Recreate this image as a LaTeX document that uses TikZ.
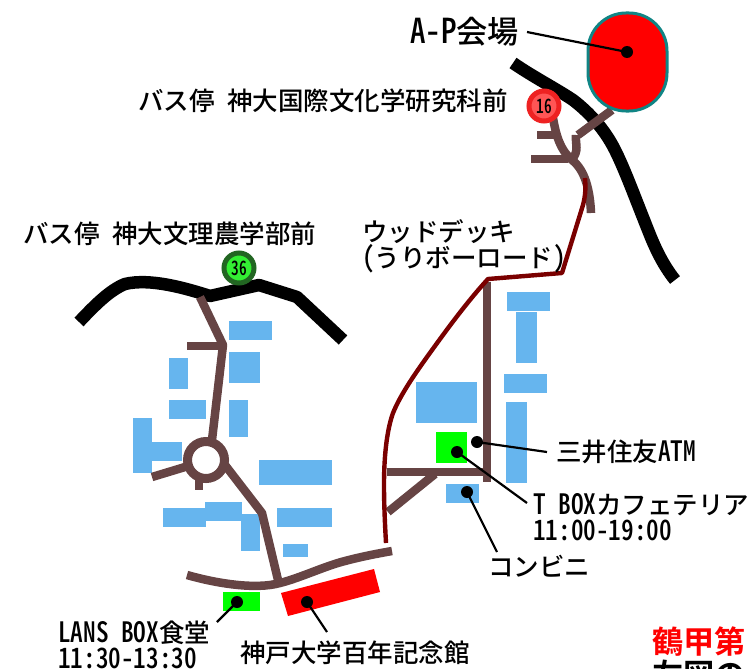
\documentclass[tikz,border=0pt]{standalone}
\usepackage{fontspec}
\newfontfamily\jp{Noto Sans CJK JP Medium}
\newfontfamily\jpb{Noto Sans CJK JP Bold}
\newfontfamily\hwf{Noto Sans CJK JP Medium}[RawFeature=+hwid,Scale=1.1]
\newcommand{\hw}[1]{\scalebox{.9}[1]{\hwf #1}}
\definecolor{road}{HTML}{664444}
\definecolor{bldg}{HTML}{66B5EE}
\definecolor{deck}{HTML}{7A0000}
\definecolor{teal2}{HTML}{108585}
\tikzset{
  x=1pt,y=-1pt,
  mainroad/.style={draw=black,line width=12.5pt,line join=round},
  path1/.style={draw=road,line width=8.5pt,line join=round},
  deckline/.style={draw=deck,line width=4.4pt,line join=round},
  bldgbox/.style={fill=bldg},
  shop/.style={fill=green},
  hall/.style={fill=red},
  dot/.style={circle,fill=black,inner sep=0pt,minimum size=12pt},
  leader/.style={draw=black,line width=2.2pt},
  lab/.style={anchor=base west,inner sep=0pt,font=\jp\fontsize{25.5}{29}\selectfont,align=left},
  biglab/.style={anchor=base west,inner sep=0pt,font=\jp\fontsize{31.2}{36}\selectfont},
  busstop/.style={circle,line width=5pt,minimum size=30pt,inner sep=0pt,font=\hwf\fontsize{18}{18}\selectfont},
}
\begin{document}
\begin{tikzpicture}
\useasboundingbox (0,0) rectangle (752,669);
\clip (0,0) rectangle (752,669);
% black roads
\draw[mainroad] (513,63) .. controls (535,78) and (555,88) .. (573,100) .. controls (590,113) and (605,130) .. (615,150) .. controls (625,170) and (634,195) .. (648,230) .. controls (655,248) and (663,265) .. (675,280);
\draw[mainroad] (79,322) .. controls (95,305) and (110,290) .. (125,284) .. controls (150,278) and (185,288) .. (210,296) -- (259,285) -- (297,297) -- (343,340);
% buildings, right
\fill[bldgbox] (507,292) rectangle (550,311);
\fill[bldgbox] (516,312) rectangle (537,363);
\fill[bldgbox] (504,374) rectangle (547,393);
\fill[bldgbox] (506,402) rectangle (527,483);
\fill[bldgbox] (416,382) rectangle (477,423);
\fill[bldgbox] (446,484) rectangle (479,503);
% buildings, left
\fill[bldgbox] (229,321) rectangle (272,340);
\fill[bldgbox] (229,352) rectangle (260,383);
\fill[bldgbox] (169,358) rectangle (188,389);
\fill[bldgbox] (169,400) rectangle (206,419);
\fill[bldgbox] (229,400) rectangle (248,437);
\fill[bldgbox] (133,418) rectangle (152,473);
\fill[bldgbox] (152,442) rectangle (182,461);
\fill[bldgbox] (259,460) rectangle (332,485);
\fill[bldgbox] (163,508) rectangle (206,527);
\fill[bldgbox] (205,502) rectangle (242,521);
\fill[bldgbox] (241,514) rectangle (260,551);
\fill[bldgbox] (277,508) rectangle (332,527);
\fill[bldgbox] (283,544) rectangle (308,557);
% shops and hall
\fill[shop] (436,432) rectangle (467,463);
\fill[shop] (223,592) rectangle (260,611);
\fill[hall] (281,593) -- (374,569) -- (380,592) -- (288,616) -- cycle;
% brown paths, top
\draw[path1] (612,110) -- (578,135);
\draw[path1] (576,135) .. controls (575,145) and (580,150) .. (571,161);
\draw[path1] (553,118) .. controls (556,135) and (560,150) .. (572,160) .. controls (585,170) and (590,190) .. (591,213);
\draw[path1] (537,135) -- (555,135);
\draw[path1] (531,159) -- (568,159);
% brown paths, centre
\draw[path1] (487,282) -- (487,482);
\draw[path1] (387,472) -- (487,472);
\draw[path1] (388,512) -- (435,474);
% brown paths, left
\draw[path1] (200,297) -- (223,345) -- (212,440);
\draw[path1] (187,346) -- (225,346);
\draw[path1] (152,477) -- (185,467);
\draw[path1] (199,478) -- (199,490);
\draw[path1] (225,465) -- (262,513) -- (278,580);
\draw[path1] (187,575) .. controls (215,583) and (255,590) .. (280,583) .. controls (300,578) and (325,566) .. (345,561) .. controls (360,557) and (375,554) .. (392,551);
\node[circle,draw=road,line width=9pt,fill=white,minimum size=37pt,inner sep=0pt] (rond) at (206,460) {};
% deck
\draw[deckline] (585,178) .. controls (586,190) and (585,197) .. (583,205) -- (562,273) -- (488,279) .. controls (466,303) and (445,332) .. (427,357) .. controls (412,378) and (400,396) .. (393,413) .. controls (388,427) and (384,450) .. (384,485) .. controls (384,505) and (385,525) .. (386,543);
% venue
\node[draw=teal2,fill=red,line width=3pt,rounded corners=38pt,minimum width=79pt,minimum height=98pt,inner sep=0pt] (venue) at (627.5,62) {};
% bus stops
\node[busstop,draw={rgb,255:red,238;green,34;blue,34},fill={rgb,255:red,255;green,85;blue,85}] (b16) at (544,106) {\scalebox{.78}[1]{16}};
\node[busstop,draw={rgb,255:red,34;green,102;blue,34},fill={rgb,255:red,51;green,238;blue,51}] (b36) at (239,268) {\scalebox{.78}[1]{36}};
% dots
\node[dot] (dvenue) at (627,52) {};
\node[dot] (datm) at (477,442) {};
\node[dot] (dtbox) at (457,452) {};
\node[dot] (dconv) at (467,492) {};
\node[dot] (dlans) at (237,602) {};
\node[dot] (dhall) at (307,602) {};
% labels
\node[biglab] (lvenue) at (410,44) {\hw{A-P}会場};
\node[lab] (lb16) at (138,110) {バス停\hw{ }神大国際文化学研究科前};
\node[lab] (lb36) at (23,243) {バス停\hw{ }神大文理農学部前};
\node[lab] (ldeck) at (362,241) {ウッドデッキ};
\node[lab] (ldeckb) at (362,267) {\hw{(}うりボーロード\hw{)}};
\node[lab] (latm) at (556,461) {三井住友\hw{ATM}};
\node[lab] (ltbox) at (533,514) {\hw{T BOX}カフェテリア};
\node[lab] (ltboxh) at (533,540) {\hw{11:00-19:00}};
\node[lab] (lconv) at (488,576) {コンビニ};
\node[lab] (llans) at (58,642) {\hw{LANS BOX}食堂};
\node[lab] (llansh) at (58,668) {\hw{11:30-13:30}};
\node[lab] (lhall) at (240,662) {神戸大学百年記念館};
\node[biglab,text=red] (ltitle) at (652,653) {\jpb 鶴甲第};
\node[biglab] (ltitleb) at (652,686) {\jpb 左図の};
% leaders
\coordinate (cvenue) at (527,32);
\coordinate (catm) at (547,452);
\coordinate (ctbox) at (527,503);
\coordinate (cconv) at (497,552);
\coordinate (clans) at (217,622);
\coordinate (chall) at (327,632);
\draw[leader] (cvenue) -- (dvenue.center);
\draw[leader] (catm) -- (datm.center);
\draw[leader] (ctbox) -- (dtbox.center);
\draw[leader] (cconv) -- (dconv.center);
\draw[leader] (clans) -- (dlans.center);
\draw[leader] (chall) -- (dhall.center);
\end{tikzpicture}
\end{document}
